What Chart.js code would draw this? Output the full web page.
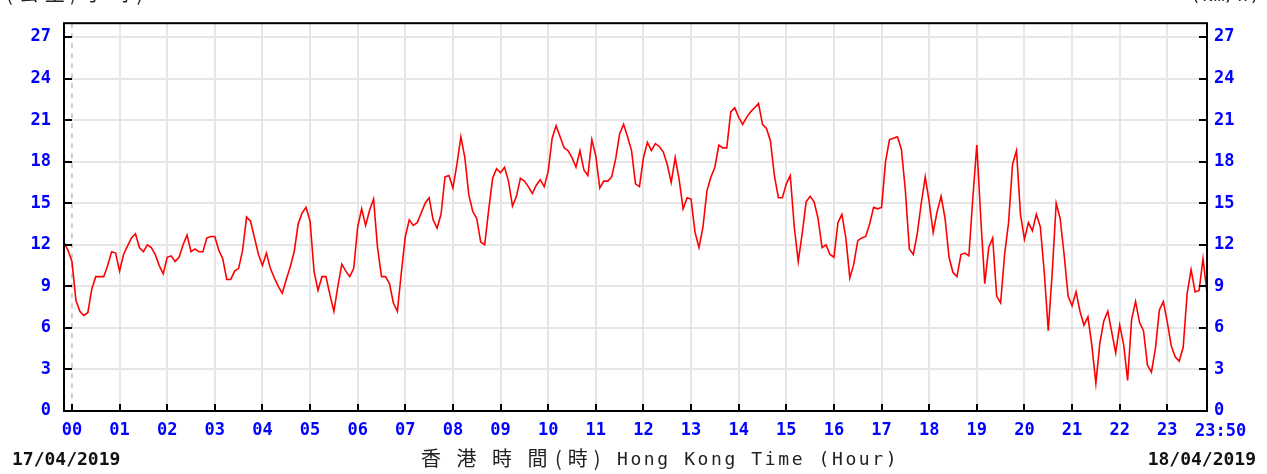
<!DOCTYPE html>
<html>
<head>
<meta charset="utf-8">
<title>Wind speed</title>
<script src="https://cdn.jsdelivr.net/npm/chart.js"></script>
<style>
  html, body { margin: 0; padding: 0; background: #fff; }
  #wrap { width: 1267px; height: 474px; }
</style>
</head>
<body>
<div id="wrap"><canvas id="windChart" width="1267" height="474"></canvas></div>
<script>
// ............... data ...............
const startMin = -10;   // first reading at 23:50 the day before
const stepMin = 5;      // one reading every 5 minutes

// wind speed (km/h), two readings before 00, then one row per hour
const speeds = [
  12.2, 11.6,
  10.8, 8.0, 7.2, 6.9, 7.1, 8.8, 9.7, 9.7, 9.7, 10.5, 11.5, 11.4,
  10.1, 11.3, 11.9, 12.5, 12.8, 11.8, 11.5, 12.0, 11.8, 11.3, 10.5, 9.9,
  11.1, 11.2, 10.8, 11.1, 12.0, 12.7, 11.5, 11.7, 11.5, 11.5, 12.5, 12.6,
  12.6, 11.6, 11.0, 9.5, 9.5, 10.1, 10.3, 11.6, 14.0, 13.7, 12.5, 11.3,
  10.5, 11.4, 10.3, 9.6, 9.0, 8.5, 9.5, 10.4, 11.5, 13.5, 14.3, 14.7,
  13.7, 10.1, 8.7, 9.7, 9.7, 8.4, 7.2, 9.0, 10.6, 10.1, 9.7, 10.3,
  13.3, 14.6, 13.4, 14.5, 15.3, 11.8, 9.7, 9.7, 9.2, 7.8, 7.2, 10.0,
  12.6, 13.8, 13.4, 13.6, 14.3, 15.0, 15.4, 13.8, 13.2, 14.2, 16.9, 17.0,
  16.1, 17.8, 19.8, 18.3, 15.6, 14.4, 13.9, 12.2, 12.0, 14.5, 16.8, 17.5,
  17.2, 17.6, 16.6, 14.8, 15.5, 16.8, 16.6, 16.2, 15.7, 16.3, 16.7, 16.2,
  17.3, 19.7, 20.6, 19.8, 19.0, 18.8, 18.3, 17.6, 18.8, 17.4, 17.0, 19.6,
  18.4, 16.1, 16.6, 16.6, 16.9, 18.2, 20.0, 20.7, 19.8, 18.8, 16.4, 16.2,
  18.3, 19.4, 18.8, 19.3, 19.1, 18.7, 17.8, 16.5, 18.3, 16.7, 14.6, 15.4,
  15.3, 12.9, 11.8, 13.3, 15.9, 16.9, 17.6, 19.2, 19.0, 19.0, 21.6, 21.9,
  21.2, 20.7, 21.2, 21.6, 21.9, 22.2, 20.7, 20.4, 19.5, 17.0, 15.4, 15.4,
  16.4, 17.0, 13.3, 10.8, 12.8, 15.1, 15.5, 15.1, 13.9, 11.8, 12.0, 11.3,
  11.1, 13.6, 14.2, 12.5, 9.6, 10.6, 12.3, 12.5, 12.6, 13.5, 14.7, 14.6,
  14.7, 18.0, 19.6, 19.7, 19.8, 18.9, 15.9, 11.7, 11.3, 12.8, 15.0, 16.9,
  15.1, 12.9, 14.4, 15.5, 13.9, 11.1, 10.0, 9.7, 11.3, 11.4, 11.2, 15.4,
  19.2, 13.9, 9.2, 11.8, 12.5, 8.3, 7.8, 11.3, 13.6, 17.8, 18.8, 14.2,
  12.4, 13.6, 13.0, 14.2, 13.3, 10.0, 5.8, 10.0, 15.0, 13.9, 11.3, 8.3,
  7.6, 8.6, 7.2, 6.2, 6.8, 4.7, 2.0, 4.9, 6.5, 7.2, 5.7, 4.2,
  6.2, 4.8, 2.2, 6.6, 7.9, 6.4, 5.8, 3.3, 2.8, 4.5, 7.3, 7.9,
  6.4, 4.7, 3.9, 3.6, 4.6, 8.5, 10.2, 8.6, 8.7, 11.0, 8.5
];

const hourLabels = ['00','01','02','03','04','05','06','07','08','09','10','11',
                    '12','13','14','15','16','17','18','19','20','21','22','23'];
const endLabel = '23:50';
const endMin = 1430;
const speedTicks = [0, 3, 6, 9, 12, 15, 18, 21, 24, 27];
const speedMax = 28;

const dateLeft = '17/04/2019';
const dateRight = '18/04/2019';
const unitLeft = '(公里/小時)';
const unitRight = '(km/h)';
const titleZh = '香港時間';
const titleZhHour = '(時)';
const titleEn = 'Hong Kong Time (Hour)';

// ............... styles ...............
const blue = '#0000ff';
const tickFont = { family: 'DejaVu Sans Mono', size: 17, weight: 'bold' };
const gridColor = '#e6e6e6';

const points = speeds.map((v, i) => ({ x: startMin + i * stepMin, y: v }));

// frame, inner tick marks, dashed 00 line and the loose texts
const frame = {
  id: 'frame',
  beforeDatasetsDraw(chart) {
    const { ctx, chartArea: a, scales: { x } } = chart;
    const x0 = x.getPixelForValue(0);
    ctx.save();
    ctx.strokeStyle = '#cccccc';
    ctx.lineWidth = 2;
    ctx.setLineDash([5, 5]);
    ctx.beginPath();
    ctx.moveTo(x0, a.top);
    ctx.lineTo(x0, a.bottom);
    ctx.stroke();
    ctx.restore();
  },
  afterDraw(chart) {
    const { ctx, chartArea: a, scales: { x, y } } = chart;
    ctx.save();
    ctx.strokeStyle = '#000';
    ctx.lineWidth = 2;
    ctx.strokeRect(a.left, a.top, a.right - a.left, a.bottom - a.top);

    ctx.beginPath();
    hourLabels.forEach((l, i) => {
      const px = Math.round(x.getPixelForValue(i * 60));
      ctx.moveTo(px, a.bottom);
      ctx.lineTo(px, a.bottom - 7);
    });
    speedTicks.forEach(v => {
      const py = Math.round(y.getPixelForValue(v));
      ctx.moveTo(a.left, py);
      ctx.lineTo(a.left + 8, py);
      ctx.moveTo(a.right, py);
      ctx.lineTo(a.right - 8, py);
    });
    ctx.stroke();

    // last x label sits right of the border
    ctx.fillStyle = blue;
    ctx.font = 'bold 17px "DejaVu Sans Mono"';
    ctx.textAlign = 'left';
    ctx.textBaseline = 'alphabetic';
    ctx.fillText(endLabel, x.getPixelForValue(endMin) - 12, 436);

    // dates
    ctx.fillStyle = '#111';
    ctx.font = 'bold 18px "DejaVu Sans Mono"';
    ctx.fillText(dateLeft, 12, 465);
    ctx.textAlign = 'right';
    ctx.fillText(dateRight, 1256, 465);

    // axis title
    ctx.textAlign = 'left';
    ctx.fillStyle = '#222';
    ctx.font = '20px "Noto Sans CJK TC"';
    ctx.letterSpacing = '15.5px';
    ctx.fillText(titleZh, 421, 466);
    ctx.letterSpacing = '6px';
    ctx.fillText(titleZhHour, 555, 466);
    ctx.font = '18px "DejaVu Sans Mono"';
    ctx.letterSpacing = '2.6px';
    ctx.fillText(titleEn, 617, 465);

    // units, mostly above the top edge
    ctx.font = '20px "Noto Sans CJK TC"';
    ctx.letterSpacing = '6px';
    ctx.fillText(unitLeft, 6, 1);
    ctx.font = '18px "DejaVu Sans Mono"';
    ctx.letterSpacing = '1px';
    ctx.fillText(unitRight, 1190, 1);
    ctx.restore();
  }
};

const yAxis = (pos, pad) => ({
  type: 'linear',
  position: pos,
  min: 0,
  max: speedMax,
  afterBuildTicks: s => { s.ticks = speedTicks.map(v => ({ value: v })); },
  afterFit: s => { s.width = pos === 'left' ? 64 : 60; },
  ticks: { color: blue, font: tickFont, padding: pad, callback: v => String(v) },
  grid: { display: pos === 'left', color: gridColor, lineWidth: 2, drawTicks: false },
  border: { display: false }
});

new Chart(document.getElementById('windChart'), {
  type: 'line',
  data: {
    datasets: [{
      data: points,
      borderColor: '#ff0000',
      borderWidth: 1.6,
      pointRadius: 0,
      tension: 0,
      yAxisID: 'y'
    }]
  },
  options: {
    responsive: false,
    animation: false,
    layout: { padding: { top: 12, left: 0, right: 0, bottom: 0 } },
    plugins: { legend: { display: false }, tooltip: { enabled: false } },
    scales: {
      x: {
        type: 'linear',
        min: startMin,
        max: endMin,
        afterBuildTicks: s => { s.ticks = hourLabels.map((l, i) => ({ value: i * 60 })); },
        afterFit: s => { s.height = 63; },
        ticks: {
          color: blue, font: tickFont, padding: 9,
          maxRotation: 0, autoSkip: false,
          callback: v => hourLabels[v / 60]
        },
        grid: {
          color: c => (c.tick && c.tick.value === 0 ? 'rgba(0,0,0,0)' : gridColor),
          lineWidth: 2,
          drawTicks: false
        },
        border: { display: false }
      },
      y: yAxis('left', 13),
      y2: yAxis('right', 7)
    }
  },
  plugins: [frame]
});
</script>
</body>
</html>
